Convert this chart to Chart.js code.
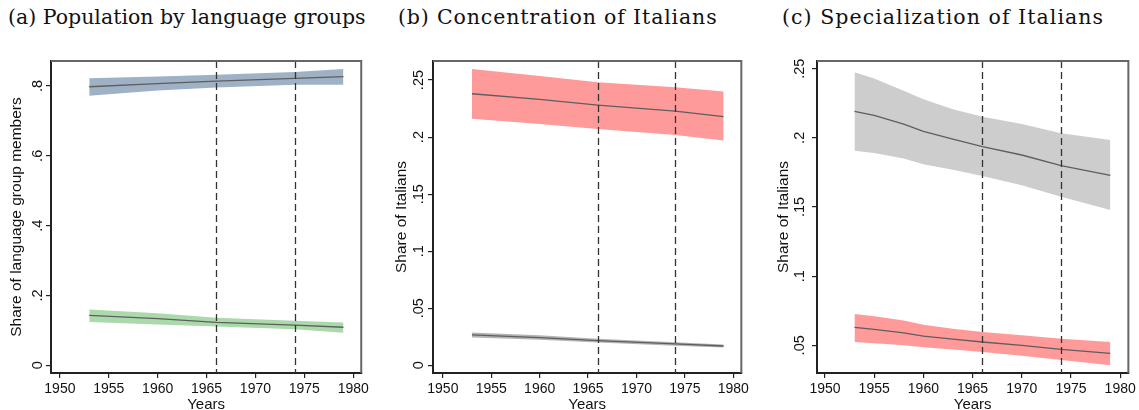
<!DOCTYPE html>
<html>
<head>
<meta charset="utf-8">
<title>Language groups 1953-1979</title>
<script src="https://cdn.jsdelivr.net/npm/chart.js@4.4.1/dist/chart.umd.min.js"></script>
<style>
  body { margin: 0; background: #fff; width: 1139px; height: 410px; overflow: hidden; position: relative; }
  .ttl { position: absolute; top: 5px; font-family: "DejaVu Serif", serif; font-size: 20.5px; color: #111; white-space: nowrap; }
  .box { position: absolute; top: 50px; }
</style>
</head>
<body>
<div class="ttl" style="left:8px">(a) Population by language groups</div>
<div class="ttl" style="left:398px;letter-spacing:0.85px">(b) Concentration of Italians</div>
<div class="ttl" style="left:782px;letter-spacing:1.05px">(c) Specialization of Italians</div>
<div class="box" style="left:0px"><canvas id="chartA" width="372" height="360"></canvas></div>
<div class="box" style="left:380px"><canvas id="chartB" width="372" height="360"></canvas></div>
<div class="box" style="left:760px"><canvas id="chartC" width="379" height="360"></canvas></div>
<script>
// x axis
const xTicks = [1950, 1955, 1960, 1965, 1970, 1975, 1980];
const markYears = [1966, 1974];

// (a) population shares
const yearsA = [1953, 1960, 1966, 1974, 1979];
const germanLo = [0.772, 0.787, 0.796, 0.804, 0.804];
const germanMid = [0.798, 0.807, 0.814, 0.822, 0.827];
const germanHi = [0.822, 0.827, 0.832, 0.840, 0.849];
const italianLo = [0.124, 0.117, 0.111, 0.103, 0.093];
const italianMid = [0.143, 0.134, 0.123, 0.115, 0.109];
const italianHi = [0.160, 0.149, 0.136, 0.128, 0.123];
const yTicksA = [0, 0.2, 0.4, 0.6, 0.8];
const yLabelsA = ['0', '.2', '.4', '.6', '.8'];

// (b) concentration
const yearsB = [1953, 1960, 1966, 1974, 1979];
const concHiLo = [0.216, 0.2115, 0.207, 0.2018, 0.197];
const concHiMid = [0.238, 0.233, 0.228, 0.2228, 0.218];
const concHiHi = [0.2596, 0.2535, 0.248, 0.2436, 0.240];
const concLoLo = [0.0244, 0.0223, 0.0199, 0.0172, 0.0155];
const concLoMid = [0.0266, 0.0243, 0.0216, 0.0187, 0.0169];
const concLoHi = [0.0288, 0.0263, 0.0233, 0.0202, 0.0183];
const yTicksB = [0, 0.05, 0.1, 0.15, 0.2, 0.25];
const yLabelsB = ['0', '.05', '.1', '.15', '.2', '.25'];

// (c) specialization
const yearsC = [1953, 1955, 1958, 1960, 1963, 1966, 1970, 1974, 1979];
const specHiLo = [0.1907, 0.189, 0.185, 0.181, 0.177, 0.1724, 0.1657, 0.1574, 0.1478];
const specHiMid = [0.2192, 0.2163, 0.210, 0.2047, 0.199, 0.1936, 0.1876, 0.1799, 0.1729];
const specHiHi = [0.2474, 0.243, 0.234, 0.2279, 0.2206, 0.2153, 0.210, 0.2033, 0.1984];
const specLoLo = [0.0524, 0.0515, 0.050, 0.0486, 0.047, 0.0452, 0.0425, 0.0394, 0.0355];
const specLoMid = [0.063, 0.0615, 0.059, 0.0567, 0.0545, 0.0524, 0.050, 0.0471, 0.0442];
const specLoHi = [0.0726, 0.0710, 0.068, 0.0649, 0.0620, 0.0596, 0.0572, 0.0548, 0.0524];
const yTicksC = [0.05, 0.1, 0.15, 0.2, 0.25];
const yLabelsC = ['.05', '.1', '.15', '.2', '.25'];

const SANS = '"Liberation Sans", Arial, sans-serif';
const LINE = '#5e5e5e';

// lower bound, upper bound filled down to it, fitted line on top (lower order = drawn last)
function bandSets(years, lo, mid, hi, fillColor) {
    const pts = arr => arr.map((v, i) => ({ x: years[i], y: v }));
    return [
        { data: pts(lo), order: 2, borderWidth: 0, borderColor: 'rgba(0,0,0,0)', pointRadius: 0, fill: false },
        { data: pts(hi), order: 2, borderWidth: 0, borderColor: 'rgba(0,0,0,0)', pointRadius: 0, fill: '-1', backgroundColor: fillColor },
        { data: pts(mid), order: 1, borderWidth: 1.3, borderColor: LINE, pointRadius: 0, fill: false }
    ];
}

// rotated y labels, dashed year markers and the top/right frame
const framePlugin = {
    id: 'frame',
    afterDatasetsDraw(chart) {
        const { ctx, chartArea: a, scales } = chart;
        ctx.save();
        ctx.strokeStyle = '#333';
        ctx.lineWidth = 1.3;
        ctx.setLineDash([7, 4]);
        markYears.forEach(yr => {
            const x = Math.round(scales.x.getPixelForValue(yr)) + 0.5;
            ctx.beginPath();
            ctx.moveTo(x, a.top);
            ctx.lineTo(x, a.bottom);
            ctx.stroke();
        });
        ctx.restore();
    },
    afterDraw(chart, args, opts) {
        const { ctx, chartArea: a, scales } = chart;
        ctx.save();
        ctx.strokeStyle = '#666';
        ctx.lineWidth = 2;
        ctx.beginPath();
        ctx.moveTo(a.left, a.top);
        ctx.lineTo(a.right, a.top);
        ctx.lineTo(a.right, a.bottom);
        ctx.stroke();

        ctx.fillStyle = '#111';
        ctx.font = '14.5px ' + SANS;
        ctx.textAlign = 'center';
        ctx.textBaseline = 'middle';
        scales.y.ticks.forEach((t, i) => {
            const y = scales.y.getPixelForValue(t.value);
            ctx.save();
            ctx.translate(a.left - opts.labelGap, y);
            ctx.rotate(-Math.PI / 2);
            ctx.fillText(opts.labels[i], 0, 0);
            ctx.restore();
        });
        ctx.restore();
    }
};

function makeChart(id, p) {
    return new Chart(document.getElementById(id), {
        type: 'line',
        data: { datasets: p.datasets },
        plugins: [framePlugin],
        options: {
            responsive: false,
            animation: false,
            events: [],
            layout: { padding: { top: 11, right: p.padRight, left: 0, bottom: 0 } },
            elements: { line: { tension: 0 } },
            plugins: {
                legend: { display: false },
                tooltip: { enabled: false },
                frame: { labels: p.yLabels, labelGap: p.labelGap }
            },
            scales: {
                x: {
                    type: 'linear',
                    min: p.xMin,
                    max: p.xMax,
                    afterBuildTicks: s => { s.ticks = xTicks.map(v => ({ value: v })); },
                    afterFit: s => { s.height = 37; },
                    grid: { drawOnChartArea: false, tickLength: 5, color: '#222', lineWidth: 1.2 },
                    border: { color: '#222', width: 2 },
                    ticks: { color: '#111', font: { family: SANS, size: 14 }, padding: 3, maxRotation: 0, autoSkip: false, callback: v => String(v) },
                    title: { display: true, text: 'Years', color: '#111', font: { family: SANS, size: 15 }, padding: { top: 0, bottom: -4 } }
                },
                y: {
                    min: p.yMin,
                    max: p.yMax,
                    afterBuildTicks: s => { s.ticks = p.yTicks.map(v => ({ value: v })); },
                    afterFit: s => { s.width = p.yAxisW; },
                    grid: { drawOnChartArea: false, tickLength: 5, color: '#222', lineWidth: 1.2 },
                    border: { color: '#222', width: 2 },
                    ticks: { display: false },
                    title: { display: true, text: p.yTitle, color: '#111', font: { family: SANS, size: 15.5 }, padding: { top: p.titlePad } }
                }
            }
        }
    });
}

makeChart('chartA', {
    datasets: [
        ...bandSets(yearsA, germanLo, germanMid, germanHi, '#9fb1c5'),
        ...bandSets(yearsA, italianLo, italianMid, italianHi, '#abd9ab')
    ],
    xMin: 1949.09, xMax: 1980.82, yMin: -0.022, yMax: 0.8717,
    yTicks: yTicksA, yLabels: yLabelsA, yTitle: 'Share of language group members',
    yAxisW: 51, padRight: 8, labelGap: 13, titlePad: 7.5
});

makeChart('chartB', {
    datasets: [
        ...bandSets(yearsB, concHiLo, concHiMid, concHiHi, '#ff9a9a'),
        ...bandSets(yearsB, concLoLo, concLoMid, concLoHi, '#b4b4b4')
    ],
    xMin: 1948.98, xMax: 1980.83, yMin: -0.00675, yMax: 0.2667,
    yTicks: yTicksB, yLabels: yLabelsB, yTitle: 'Share of Italians',
    yAxisW: 53, padRight: 5, labelGap: 14.5, titlePad: 12.5
});

makeChart('chartC', {
    datasets: [
        ...bandSets(yearsC, specHiLo, specHiMid, specHiHi, '#cdcdcd'),
        ...bandSets(yearsC, specLoLo, specLoMid, specLoHi, '#ff9a9a')
    ],
    xMin: 1949.19, xMax: 1980.83, yMin: 0.02997, yMax: 0.25557,
    yTicks: yTicksC, yLabels: yLabelsC, yTitle: 'Share of Italians',
    yAxisW: 57, padRight: 9, labelGap: 17, titlePad: 14
});
</script>
</body>
</html>
